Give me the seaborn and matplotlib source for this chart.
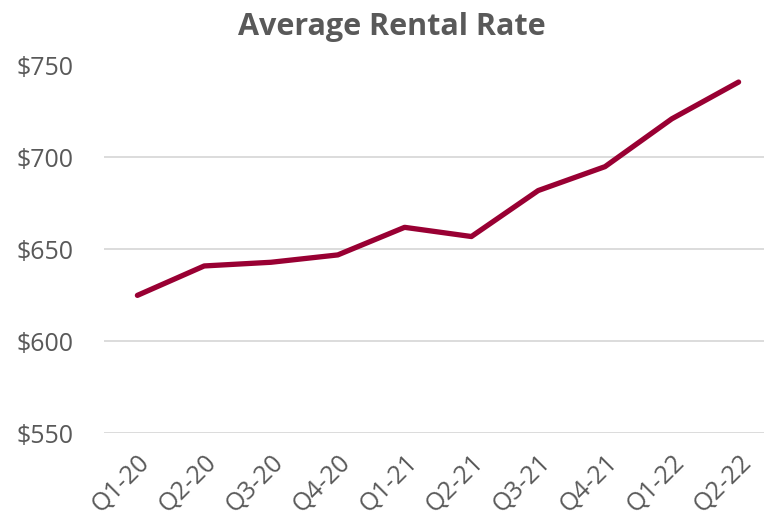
import pandas as pd
import matplotlib.pyplot as plt
import seaborn as sns

quarters = ["Q1-20", "Q2-20", "Q3-20", "Q4-20", "Q1-21", "Q2-21", "Q3-21", "Q4-21", "Q1-22", "Q2-22"]
rates = [625, 641, 643, 647, 662, 657, 682, 695, 721, 741]
y_ticks = [550, 600, 650, 700, 750]

df = pd.DataFrame({"Quarter": quarters, "Rate": rates})

sns.set_style("white")
plt.rcParams["font.family"] = ["Open Sans", "DejaVu Sans"]

fig = plt.figure(figsize=(7.64, 5.3), dpi=100)
ax = fig.add_axes([104 / 764, 1 - 433.3 / 530, 668 / 764, (433.3 - 65.5) / 530])

sns.lineplot(data=df, x="Quarter", y="Rate", color="#990033", linewidth=3.8,
             sort=False, ax=ax, solid_capstyle="round")

ax.set_xlim(-0.5, len(quarters) - 0.5)
ax.set_ylim(550, 750)
ax.set_yticks(y_ticks)
ax.set_yticklabels([f"${v}" for v in y_ticks])
ax.yaxis.grid(True, color="#d9d9d9", linewidth=1.3)
ax.set_axisbelow(True)
for s in ax.spines.values():
    s.set_visible(False)
ax.set_xlabel("")
ax.set_ylabel("")
ax.tick_params(axis="y", length=0, labelsize=18, labelcolor="#595959", pad=22)
ax.tick_params(axis="x", length=0, labelsize=18, labelcolor="#595959", pad=12)
plt.setp(ax.get_xticklabels(), rotation=45, ha="right", rotation_mode="anchor")

fig.text(0.513, 0.95, "Average Rental Rate", ha="center", va="center",
         fontsize=22, fontweight="bold", color="#595959")

fig.savefig("out.png", dpi=100)
